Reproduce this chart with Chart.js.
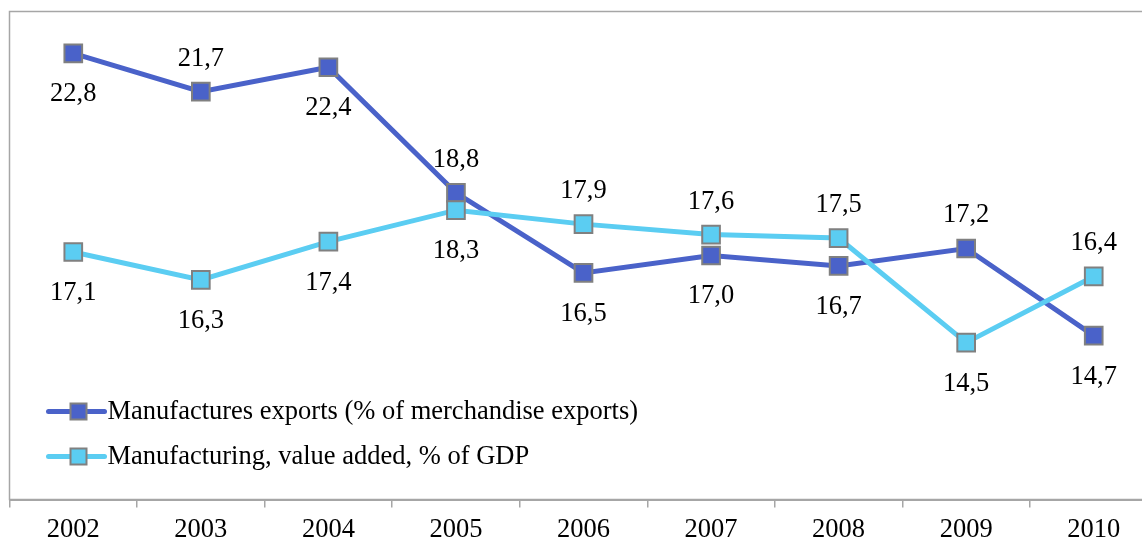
<!DOCTYPE html>
<html>
<head>
<meta charset="utf-8">
<script src="https://cdn.jsdelivr.net/npm/chart.js@4"></script>
<style>
  html, body { margin: 0; padding: 0; background: #fff; overflow: hidden; }
  #wrap { width: 1177px; height: 555px; margin-left: -5px; margin-top: -3px; }
</style>
</head>
<body>
<div id="wrap"><canvas id="chart"></canvas></div>
<script>
const years = ["2002", "2003", "2004", "2005", "2006", "2007", "2008", "2009", "2010"];
const exportsShare = [22.8, 21.7, 22.4, 18.8, 16.5, 17.0, 16.7, 17.2, 14.7];
const valueAdded = [17.1, 16.3, 17.4, 18.3, 17.9, 17.6, 17.5, 14.5, 16.4];
const exportsLabelPos = ["below", "above", "below", "above", "below", "below", "below", "above", "below"];
const valueAddedLabelPos = ["below", "below", "below", "below", "above", "above", "above", "below", "above"];
const seriesNames = [
  "Manufactures exports (% of merchandise exports)",
  "Manufacturing, value added, % of GDP"
];

const DARK = "#4a62c9";
const LIGHT = "#5bcdf2";
const EDGE = "#808080";
const SERIF = "'Liberation Serif', 'Times New Roman', serif";

// frame around the plot area (left + top; bottom is the x axis)
const frame = {
  id: "frame",
  beforeDatasetsDraw(chart) {
    const { ctx, chartArea: a } = chart;
    ctx.save();
    ctx.strokeStyle = "#a6a6a6";
    ctx.lineWidth = 1.5;
    ctx.strokeRect(a.left, a.top, a.right - a.left, a.bottom - a.top);
    ctx.restore();
  }
};

// value labels above / below each point
const valueLabels = {
  id: "valueLabels",
  afterDatasetsDraw(chart) {
    const { ctx } = chart;
    ctx.save();
    ctx.font = "26.5px " + SERIF;
    ctx.fillStyle = "#000";
    ctx.textAlign = "center";
    ctx.textBaseline = "middle";
    chart.data.datasets.forEach((ds, i) => {
      const meta = chart.getDatasetMeta(i);
      meta.data.forEach((pt, j) => {
        const dy = ds.labelPos[j] === "above" ? -33 : 41;
        ctx.fillText(ds.data[j].toFixed(1).replace(".", ","), pt.x, pt.y + dy);
      });
    });
    ctx.restore();
  }
};

// legend drawn inside the plot, lower left
const innerLegend = {
  id: "innerLegend",
  afterDraw(chart) {
    const { ctx, chartArea: a } = chart;
    const x0 = a.left + 39, x1 = a.left + 95, xm = a.left + 69;
    ctx.save();
    ctx.font = "26.5px " + SERIF;
    ctx.textBaseline = "middle";
    chart.data.datasets.slice().sort((p, q) => p.legendIndex - q.legendIndex).forEach((ds, k) => {
      const y = a.bottom - 88 + k * 45;
      ctx.strokeStyle = ds.borderColor;
      ctx.lineWidth = 5;
      ctx.lineCap = "round";
      ctx.beginPath();
      ctx.moveTo(x0, y);
      ctx.lineTo(x1, y);
      ctx.stroke();
      ctx.fillStyle = ds.borderColor;
      ctx.fillRect(xm - 8, y - 8, 16, 16);
      ctx.strokeStyle = EDGE;
      ctx.lineWidth = 2;
      ctx.strokeRect(xm - 8, y - 8, 16, 16);
      ctx.fillStyle = "#000";
      ctx.fillText(ds.label, a.left + 98, y + 1);
    });
    ctx.restore();
  }
};

new Chart(document.getElementById("chart"), {
  type: "line",
  data: {
    labels: years,
    datasets: [
      {
        label: seriesNames[0],
        data: exportsShare,
        labelPos: exportsLabelPos,
        legendIndex: 0,
        order: 2,
        borderColor: DARK,
        backgroundColor: DARK,
        borderWidth: 5,
        tension: 0,
        pointStyle: "rect",
        pointRadius: 12.5,
        pointBackgroundColor: DARK,
        pointBorderColor: EDGE,
        pointBorderWidth: 2
      },
      {
        label: seriesNames[1],
        data: valueAdded,
        labelPos: valueAddedLabelPos,
        legendIndex: 1,
        order: 1,
        borderColor: LIGHT,
        backgroundColor: LIGHT,
        borderWidth: 5,
        tension: 0,
        pointStyle: "rect",
        pointRadius: 12.5,
        pointBackgroundColor: LIGHT,
        pointBorderColor: EDGE,
        pointBorderWidth: 2
      }
    ]
  },
  options: {
    responsive: true,
    maintainAspectRatio: false,
    animation: false,
    layout: { padding: { left: 10, top: 12, right: 3, bottom: 0 } },
    plugins: {
      legend: { display: false },
      tooltip: { enabled: false }
    },
    scales: {
      x: {
        offset: true,
        grid: {
          offset: true,
          drawOnChartArea: false,
          tickLength: 8,
          color: "#a6a6a6",
          lineWidth: 1.5
        },
        border: { color: "#a6a6a6", width: 2 },
        ticks: {
          color: "#000",
          padding: 9,
          maxRotation: 0,
          font: { family: SERIF, size: 26.5, lineHeight: 1 }
        }
      },
      y: {
        display: false,
        min: 10,
        max: 24
      }
    }
  },
  plugins: [frame, valueLabels, innerLegend]
});
</script>
</body>
</html>
